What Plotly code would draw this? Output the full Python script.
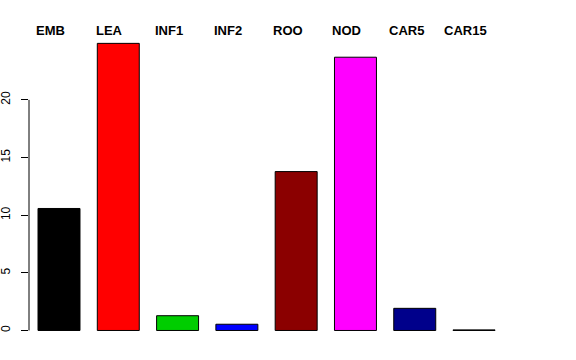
import plotly.graph_objects as go

categories = ["EMB", "LEA", "INF1", "INF2", "ROO", "NOD", "CAR5", "CAR15"]
values = [10.58, 24.9, 1.28, 0.54, 13.78, 23.7, 1.92, 0.05]
colors = ["#000000", "#FF0000", "#00CD00", "#0000FF", "#8B0000", "#FF00FF", "#00008B", "#BEBEBE"]
y_ticks = [0, 5, 10, 15, 20]

positions = list(range(len(categories)))
y_range = [-1.0, 26.06]

fig = go.Figure()
fig.add_trace(go.Bar(
    x=positions, y=values, width=0.708,
    marker=dict(color=colors, line=dict(color="#000000", width=1)),
    hoverinfo="skip",
))

for i, c in zip(positions, categories):
    fig.add_annotation(x=i, y=1.0, xref="x", yref="paper", text="<b>%s</b>" % c,
                       showarrow=False, xshift=-8.5, yanchor="middle",
                       font=dict(family="Liberation Sans, Arial, sans-serif", size=13, color="#000000"))

span = y_range[1] - y_range[0]
fig.add_shape(type="line", xref="paper", yref="paper", x0=0, x1=0,
              y0=(y_ticks[0] - y_range[0]) / span, y1=(y_ticks[-1] - y_range[0]) / span,
              line=dict(color="#000000", width=1))

fig.update_layout(
    width=576, height=360,
    margin=dict(l=29, r=55, t=30, b=18),
    plot_bgcolor="white", paper_bgcolor="white",
    showlegend=False,
    font=dict(family="Liberation Sans, Arial, sans-serif", size=12, color="#000000"),
    xaxis=dict(range=[-0.506, 7.792], showgrid=False, zeroline=False, showline=False,
               showticklabels=False, ticks="", automargin=False),
    yaxis=dict(range=y_range, showgrid=False, zeroline=False, showline=False,
               tickvals=y_ticks, ticks="outside", ticklen=7, tickcolor="#000000",
               tickangle=-90, tickfont=dict(size=12), automargin=False,
               ticklabelstandoff=6),
)

fig.write_html("out.html", config={"displayModeBar": False},
               post_script="document.body.style.margin='0';")
